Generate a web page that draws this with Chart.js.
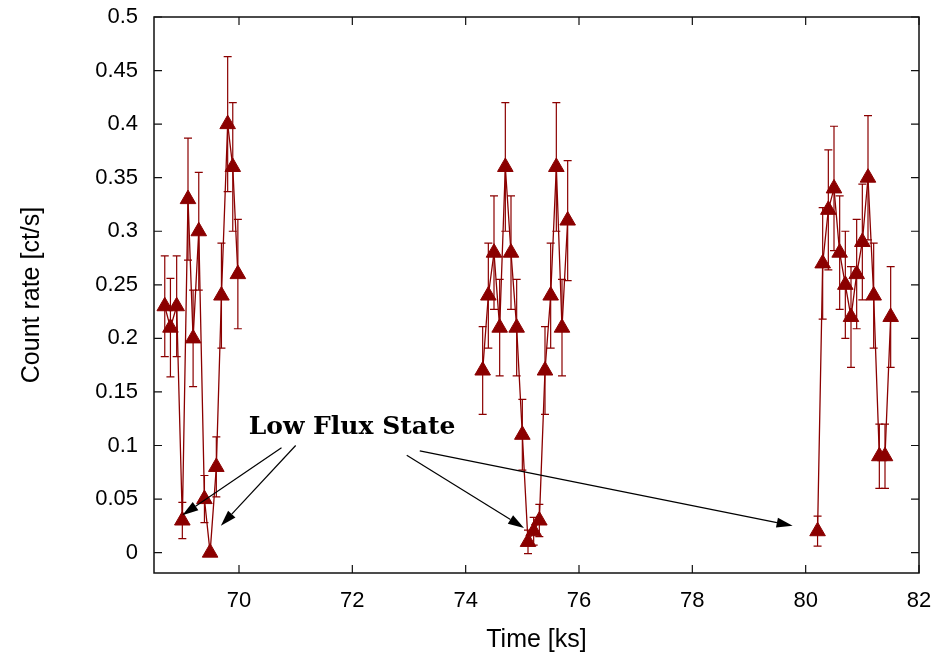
<!DOCTYPE html>
<html>
<head>
<meta charset="utf-8">
<script src="https://cdn.jsdelivr.net/npm/chart.js@4.4.1/dist/chart.umd.min.js"></script>
<style>
  html, body { margin: 0; padding: 0; background: #fff; }
  canvas { display: block; }
</style>
</head>
<body>
<canvas id="curva" width="943" height="657"></canvas>
<script>
const tiempoA = [68.69, 68.79, 68.9, 69.0, 69.1, 69.19, 69.29, 69.39, 69.49, 69.6, 69.69, 69.8, 69.89, 69.98];
const tasaA   = [0.23, 0.21, 0.23, 0.03, 0.33, 0.20, 0.30, 0.05, 0.0, 0.08, 0.24, 0.40, 0.36, 0.26];
const errorA  = [0.047, 0.046, 0.047, 0.017, 0.057, 0.045, 0.055, 0.022, 0, 0.028, 0.049, 0.063, 0.06, 0.051];

const tiempoB = [74.3, 74.4, 74.5, 74.6, 74.7, 74.8, 74.9, 75.0, 75.1, 75.2, 75.3, 75.4, 75.5, 75.6, 75.7, 75.8];
const tasaB   = [0.17, 0.24, 0.28, 0.21, 0.36, 0.28, 0.21, 0.11, 0.01, 0.02, 0.03, 0.17, 0.24, 0.36, 0.21, 0.31];
const errorB  = [0.041, 0.049, 0.053, 0.045, 0.06, 0.053, 0.045, 0.033, 0.011, 0.013, 0.015, 0.041, 0.049, 0.06, 0.045, 0.056];

const tiempoC = [80.21, 80.3, 80.4, 80.5, 80.6, 80.7, 80.8, 80.9, 81.0, 81.1, 81.2, 81.3, 81.4, 81.5];
const tasaC   = [0.02, 0.27, 0.32, 0.34, 0.28, 0.25, 0.22, 0.26, 0.29, 0.35, 0.24, 0.09, 0.09, 0.22];
const errorC  = [0.014, 0.052, 0.056, 0.058, 0.053, 0.05, 0.047, 0.051, 0.054, 0.058, 0.049, 0.03, 0.03, 0.047];

const ticksX = [70, 72, 74, 76, 78, 80, 82];
const ticksY = [0, 0.05, 0.1, 0.15, 0.2, 0.25, 0.3, 0.35, 0.4, 0.45, 0.5];

const rojo = '#8b0000';
const errores = [errorA, errorB, errorC];

function serie(tiempos, tasas) {
    return {
        data: tiempos.map((t, i) => ({ x: t, y: tasas[i] })),
        showLine: true,
        borderColor: rojo,
        borderWidth: 1.3,
        backgroundColor: rojo,
        pointStyle: 'triangle',
        pointRadius: 9,
        pointBorderWidth: 1,
        pointBorderColor: rojo,
        pointBackgroundColor: rojo,
        tension: 0
    };
}

// Marco con marcas hacia adentro (estilo gnuplot)
const marco = {
    id: 'marco',
    afterDatasetsDraw(chart) {
        const { ctx, chartArea: a, scales } = chart;
        ctx.save();
        ctx.strokeStyle = '#111';
        ctx.lineWidth = 1.5;
        ctx.strokeRect(a.left, a.top, a.right - a.left, a.bottom - a.top);
        ctx.lineWidth = 1.2;
        ctx.beginPath();
        ticksX.forEach(v => {
            const px = scales.x.getPixelForValue(v);
            ctx.moveTo(px, a.bottom); ctx.lineTo(px, a.bottom - 8);
            ctx.moveTo(px, a.top); ctx.lineTo(px, a.top + 8);
        });
        ticksY.forEach(v => {
            const py = scales.y.getPixelForValue(v);
            ctx.moveTo(a.left, py); ctx.lineTo(a.left + 8, py);
            ctx.moveTo(a.right, py); ctx.lineTo(a.right - 8, py);
        });
        ctx.stroke();
        ctx.restore();
    }
};

// Barras de error verticales con topes
const barras = {
    id: 'barras',
    beforeDatasetsDraw(chart) {
        const { ctx, scales } = chart;
        ctx.save();
        ctx.strokeStyle = rojo;
        ctx.lineWidth = 1.2;
        chart.data.datasets.forEach((ds, i) => {
            ds.data.forEach((p, j) => {
                const e = errores[i][j];
                if (!e) return;
                const px = scales.x.getPixelForValue(p.x);
                const y1 = scales.y.getPixelForValue(p.y + e);
                const y2 = scales.y.getPixelForValue(p.y - e);
                ctx.beginPath();
                ctx.moveTo(px, y1); ctx.lineTo(px, y2);
                ctx.moveTo(px - 4, y1); ctx.lineTo(px + 4, y1);
                ctx.moveTo(px - 4, y2); ctx.lineTo(px + 4, y2);
                ctx.stroke();
            });
        });
        ctx.restore();
    }
};

// Etiqueta y flechas "Low Flux State"
const notaTexto = 'Low Flux State';
const notaPos = [70.17, 0.111];
const flechas = [
    [[70.75, 0.098], [69.0, 0.035]],
    [[71.0, 0.100], [69.68, 0.025]],
    [[72.96, 0.091], [75.03, 0.023]],
    [[73.19, 0.095], [79.77, 0.025]]
];

const nota = {
    id: 'nota',
    afterDraw(chart) {
        const { ctx, scales } = chart;
        const X = v => scales.x.getPixelForValue(v);
        const Y = v => scales.y.getPixelForValue(v);
        ctx.save();
        ctx.fillStyle = '#000';
        ctx.font = 'bold 25px "DejaVu Serif"';
        ctx.textBaseline = 'alphabetic';
        ctx.fillText(notaTexto, X(notaPos[0]), Y(notaPos[1]));

        ctx.strokeStyle = '#000';
        ctx.lineWidth = 1.2;
        flechas.forEach(([de, a]) => {
            const x1 = X(de[0]), y1 = Y(de[1]), x2 = X(a[0]), y2 = Y(a[1]);
            const ang = Math.atan2(y2 - y1, x2 - x1);
            const largo = 16, ancho = 5;
            const bx = x2 - largo * Math.cos(ang), by = y2 - largo * Math.sin(ang);
            ctx.beginPath();
            ctx.moveTo(x1, y1); ctx.lineTo(bx, by);
            ctx.stroke();
            ctx.beginPath();
            ctx.moveTo(x2, y2);
            ctx.lineTo(bx + ancho * Math.sin(ang), by - ancho * Math.cos(ang));
            ctx.lineTo(bx - ancho * Math.sin(ang), by + ancho * Math.cos(ang));
            ctx.closePath();
            ctx.fill();
        });
        ctx.restore();
    }
};

const ctx = document.getElementById('curva').getContext('2d');
const fuenteTicks = { family: '"Liberation Sans", Arial, sans-serif', size: 22 };
const fuenteTitulo = { family: '"Liberation Sans", Arial, sans-serif', size: 25 };

new Chart(ctx, {
    type: 'scatter',
    data: { datasets: [serie(tiempoA, tasaA), serie(tiempoB, tasaB), serie(tiempoC, tasaC)] },
    options: {
        responsive: false,
        animation: false,
        layout: { padding: { top: 17, right: 24, left: 0, bottom: 0 } },
        plugins: { legend: { display: false }, tooltip: { enabled: false } },
        scales: {
            x: {
                type: 'linear', min: 68.5, max: 82,
                afterBuildTicks: s => { s.ticks = ticksX.map(v => ({ value: v })); },
                afterFit: s => { s.height = 84; s.paddingLeft = 0; s.paddingRight = 0; },
                grid: { display: false, drawTicks: false },
                border: { display: false },
                ticks: { color: '#000', font: fuenteTicks, padding: 15, maxRotation: 0 },
                title: { display: true, text: 'Time [ks]', color: '#000', font: fuenteTitulo, padding: { top: 0, bottom: 2 } }
            },
            y: {
                type: 'linear', min: -0.019, max: 0.5,
                afterBuildTicks: s => { s.ticks = ticksY.map(v => ({ value: v })); },
                afterFit: s => { s.width = 154; s.paddingTop = 0; s.paddingBottom = 0; },
                grid: { display: false, drawTicks: false },
                border: { display: false },
                ticks: { color: '#000', font: fuenteTicks, padding: 16, callback: v => String(+v.toFixed(2)) },
                title: { display: true, text: 'Count rate [ct/s]', color: '#000', font: fuenteTitulo, padding: { top: 17, bottom: 17 } }
            }
        }
    },
    plugins: [barras, marco, nota]
});
</script>
</body>
</html>
